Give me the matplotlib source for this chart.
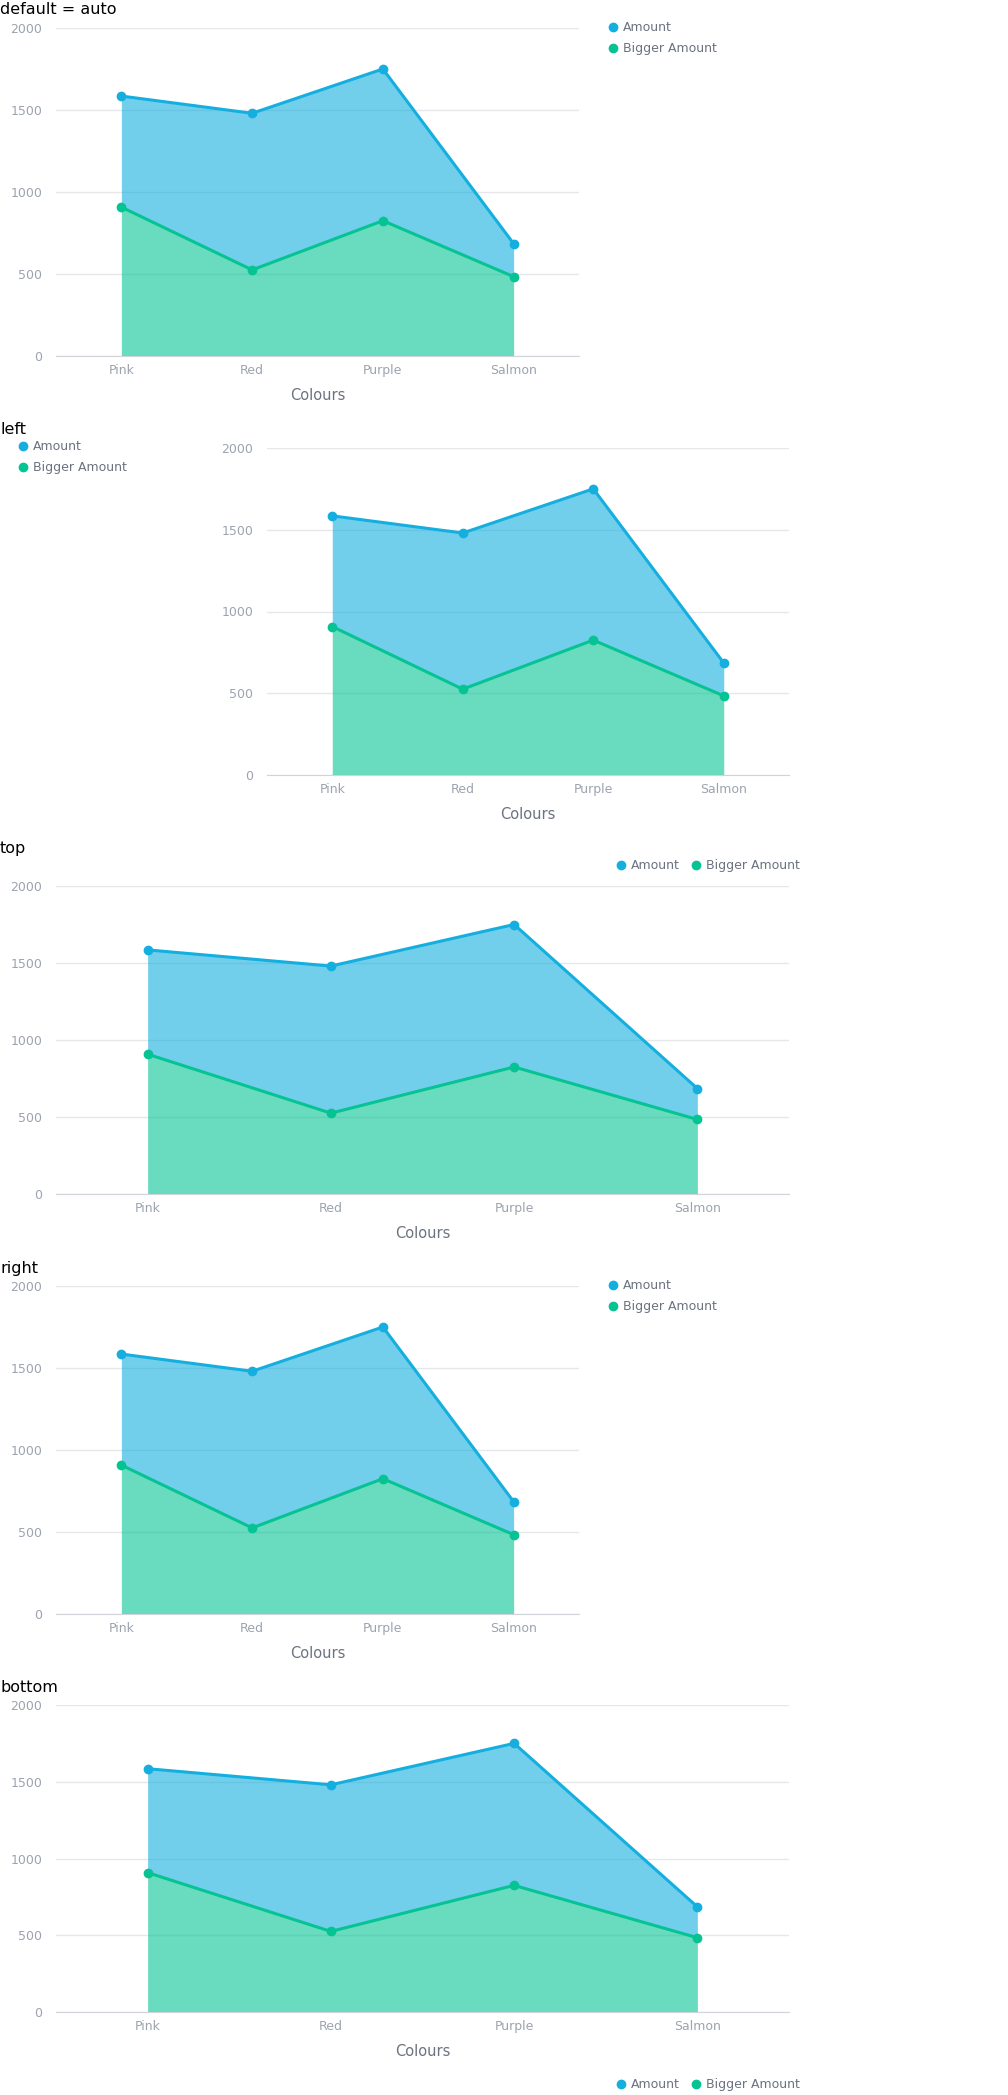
import matplotlib
matplotlib.use("Agg")
import matplotlib.pyplot as plt
from matplotlib.lines import Line2D

# data
categories = ["Pink", "Red", "Purple", "Salmon"]
amount = [1585, 1480, 1750, 685]
bigger_amount = [908, 525, 825, 484]
y_ticks = [0, 500, 1000, 1500, 2000]

BLUE = "#14afdf"
GREEN = "#05c393"
W, H = 1008, 2095

plt.rcParams["font.family"] = "DejaVu Sans"
fig = plt.figure(figsize=(W / 100, H / 100), dpi=100)


def px_axes(left, top, right, bottom):
    return fig.add_axes([left / W, 1 - bottom / H, (right - left) / W, (bottom - top) / H])


def draw_chart(ax):
    x = list(range(len(categories)))
    ax.fill_between(x, bigger_amount, amount, color=BLUE, alpha=0.6, lw=0, zorder=2)
    ax.fill_between(x, 0, bigger_amount, color=GREEN, alpha=0.6, lw=0, zorder=2)
    ax.plot(x, amount, color=BLUE, lw=2.2, marker="o", ms=6, zorder=4)
    ax.plot(x, bigger_amount, color=GREEN, lw=2.2, marker="o", ms=6, zorder=4)
    ax.set_xlim(-0.5, len(categories) - 0.5)
    ax.set_ylim(0, 2000)
    ax.set_xticks(x)
    ax.set_xticklabels(categories)
    ax.set_yticks(y_ticks)
    ax.tick_params(axis="both", length=0, labelsize=9, colors="#9ca3af")
    ax.tick_params(axis="y", pad=10)
    ax.tick_params(axis="x", pad=6)
    for s in ["top", "left", "right"]:
        ax.spines[s].set_visible(False)
    ax.spines["bottom"].set_color("#d1d5db")
    ax.grid(axis="y", color="#e5e7eb", lw=1, zorder=0)
    ax.set_axisbelow(True)
    ax.set_xlabel("Colours", fontsize=10.5, color="#6b7280", labelpad=8)


def add_legend(x, y, ncol):
    handles = [
        Line2D([], [], ls="none", marker="o", ms=6, color=BLUE, label="Amount"),
        Line2D([], [], ls="none", marker="o", ms=6, color=GREEN, label="Bigger Amount"),
    ]
    fig.legend(handles=handles, loc="upper left", bbox_to_anchor=(x / W, 1 - y / H),
               ncol=ncol, frameon=False, fontsize=9, labelcolor="#6b7280",
               handlelength=0.7, handletextpad=0.45, labelspacing=0.65,
               columnspacing=0.9, borderpad=0, borderaxespad=0)


def add_title(text, y):
    fig.text(0, 1 - y / H, text, fontsize=11.5, color="black", va="center", ha="left")


# default = auto
ax1 = px_axes(56, 28, 579, 356)
draw_chart(ax1)
add_title("default = auto", 10)
add_legend(609, 21, 1)

# left
ax2 = px_axes(267, 448, 789, 775)
draw_chart(ax2)
add_title("left", 430)
add_legend(19, 440, 1)

# top
ax3 = px_axes(56, 886, 789, 1194)
draw_chart(ax3)
add_title("top", 849)
add_legend(617, 859, 2)

# right
ax4 = px_axes(56, 1286, 579, 1614)
draw_chart(ax4)
add_title("right", 1268)
add_legend(609, 1279, 1)

# bottom
ax5 = px_axes(56, 1705, 789, 2012)
draw_chart(ax5)
add_title("bottom", 1687)
add_legend(617, 2078, 2)

fig.savefig("out.png", dpi=100, facecolor="white")
